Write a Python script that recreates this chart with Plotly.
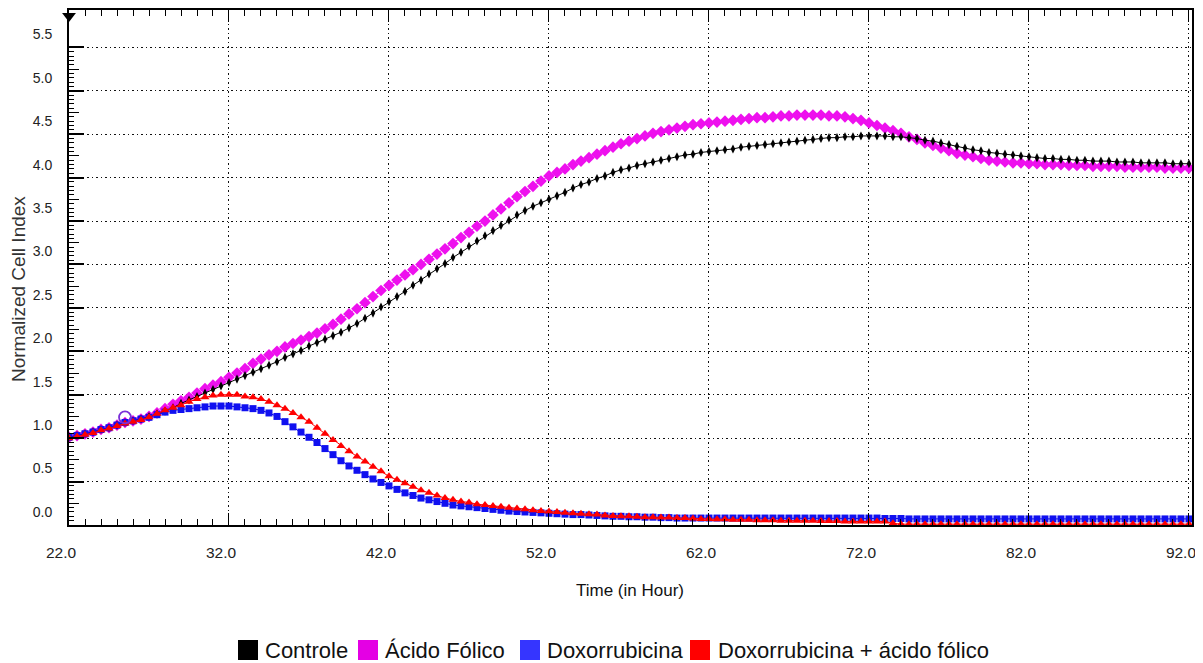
import plotly.graph_objects as go

# ---------------- data ----------------
hours = [round(22 + 0.5 * i, 1) for i in range(141)]  # sampling every 0.5 h, 22.0 .. 92.0

controle = [
    1.01, 1.03, 1.05, 1.07, 1.10, 1.12, 1.15, 1.18, 1.20, 1.22,
    1.25, 1.28, 1.31, 1.35, 1.40, 1.44, 1.48, 1.52, 1.56, 1.60,
    1.64, 1.68, 1.72, 1.76, 1.80, 1.84, 1.88, 1.93, 1.97, 2.01,
    2.06, 2.10, 2.14, 2.18, 2.22, 2.27, 2.32, 2.38, 2.44, 2.51,
    2.57, 2.63, 2.69, 2.76, 2.82, 2.89, 2.95, 3.01, 3.08, 3.14,
    3.21, 3.27, 3.33, 3.39, 3.45, 3.51, 3.57, 3.62, 3.67, 3.71,
    3.75, 3.79, 3.83, 3.88, 3.92, 3.95, 3.99, 4.02, 4.06, 4.09,
    4.11, 4.14, 4.16, 4.18, 4.20, 4.22, 4.24, 4.26, 4.27, 4.29,
    4.30, 4.31, 4.32, 4.33, 4.35, 4.36, 4.37, 4.38, 4.39, 4.40,
    4.41, 4.42, 4.43, 4.44, 4.45, 4.46, 4.46, 4.47, 4.47, 4.48,
    4.48, 4.48, 4.48, 4.47, 4.47, 4.46, 4.45, 4.43, 4.42, 4.40,
    4.38, 4.36, 4.34, 4.32, 4.31, 4.29, 4.28, 4.27, 4.26, 4.25,
    4.24, 4.23, 4.22, 4.22, 4.21, 4.21, 4.20, 4.20, 4.19, 4.19,
    4.19, 4.18, 4.18, 4.18, 4.17, 4.17, 4.17, 4.17, 4.16, 4.16,
    4.16,
]

acido_folico = [
    1.01, 1.03, 1.05, 1.07, 1.10, 1.12, 1.15, 1.18, 1.20, 1.22,
    1.25, 1.29, 1.34, 1.39, 1.43, 1.47, 1.52, 1.57, 1.61, 1.65,
    1.70, 1.75, 1.80, 1.86, 1.91, 1.96, 2.00, 2.05, 2.09, 2.13,
    2.17, 2.21, 2.26, 2.31, 2.37, 2.43, 2.49, 2.56, 2.63, 2.70,
    2.76, 2.82, 2.88, 2.94, 3.00, 3.06, 3.12, 3.18, 3.24, 3.31,
    3.37, 3.44, 3.50, 3.57, 3.64, 3.71, 3.78, 3.84, 3.90, 3.96,
    4.02, 4.06, 4.10, 4.15, 4.19, 4.23, 4.27, 4.31, 4.35, 4.39,
    4.42, 4.45, 4.48, 4.51, 4.53, 4.55, 4.57, 4.59, 4.61, 4.62,
    4.63, 4.64, 4.65, 4.66, 4.67, 4.68, 4.69, 4.69, 4.70, 4.71,
    4.71, 4.72, 4.72, 4.72, 4.72, 4.71, 4.71, 4.70, 4.68, 4.66,
    4.63, 4.60, 4.57, 4.54, 4.51, 4.47, 4.44, 4.40, 4.37, 4.34,
    4.31, 4.28, 4.26, 4.24, 4.22, 4.20, 4.19, 4.18, 4.17, 4.17,
    4.16, 4.16, 4.15, 4.15, 4.15, 4.14, 4.14, 4.14, 4.13, 4.13,
    4.13, 4.13, 4.12, 4.12, 4.12, 4.12, 4.12, 4.11, 4.11, 4.11,
    4.11,
]

doxorrubicina = [
    1.01, 1.03, 1.05, 1.07, 1.10, 1.12, 1.15, 1.18, 1.20, 1.22,
    1.24, 1.27, 1.30, 1.32, 1.33, 1.34, 1.35, 1.36, 1.37, 1.37,
    1.37, 1.36, 1.35, 1.34, 1.32, 1.29, 1.25, 1.19, 1.13, 1.07,
    1.01, 0.95, 0.88, 0.81, 0.74, 0.68, 0.63, 0.58, 0.53, 0.49,
    0.45, 0.41, 0.37, 0.34, 0.31, 0.29, 0.27, 0.25, 0.23, 0.22,
    0.21, 0.20, 0.19, 0.18, 0.17, 0.16, 0.155, 0.15, 0.145, 0.14,
    0.135, 0.13, 0.125, 0.12, 0.12, 0.115, 0.11, 0.105, 0.10, 0.10,
    0.095, 0.095, 0.09, 0.09, 0.085, 0.085, 0.08, 0.08, 0.08, 0.08,
    0.08, 0.08, 0.08, 0.08, 0.08, 0.08, 0.08, 0.08, 0.08, 0.08,
    0.08, 0.08, 0.08, 0.08, 0.08, 0.08, 0.08, 0.08, 0.08, 0.08,
    0.08, 0.08, 0.075, 0.075, 0.075, 0.07, 0.07, 0.07, 0.07, 0.07,
    0.07, 0.07, 0.07, 0.07, 0.07, 0.07, 0.07, 0.07, 0.07, 0.07,
    0.07, 0.07, 0.07, 0.07, 0.07, 0.07, 0.07, 0.07, 0.07, 0.07,
    0.07, 0.07, 0.07, 0.07, 0.07, 0.07, 0.07, 0.07, 0.07, 0.07,
    0.07,
]

doxo_acido = [
    1.00, 1.02, 1.04, 1.06, 1.09, 1.11, 1.14, 1.17, 1.19, 1.21,
    1.24, 1.28, 1.32, 1.35, 1.38, 1.42, 1.45, 1.47, 1.49, 1.50,
    1.50, 1.50, 1.48, 1.47, 1.45, 1.42, 1.38, 1.34, 1.29, 1.24,
    1.19, 1.12, 1.05, 0.98, 0.91, 0.85, 0.79, 0.73, 0.67, 0.62,
    0.56, 0.52, 0.48, 0.44, 0.40, 0.37, 0.34, 0.31, 0.29, 0.27,
    0.26, 0.24, 0.23, 0.22, 0.21, 0.20, 0.19, 0.18, 0.17, 0.16,
    0.155, 0.15, 0.14, 0.135, 0.13, 0.125, 0.12, 0.11, 0.105, 0.10,
    0.10, 0.095, 0.09, 0.09, 0.085, 0.085, 0.08, 0.08, 0.075, 0.07,
    0.07, 0.065, 0.065, 0.06, 0.06, 0.06, 0.055, 0.055, 0.055, 0.05,
    0.05, 0.05, 0.05, 0.05, 0.045, 0.045, 0.045, 0.04, 0.04, 0.04,
    0.04, 0.04, 0.04, 0.02, 0.01, 0.01, 0.01, 0.01, 0.01, 0.01,
    0.01, 0.01, 0.01, 0.01, 0.01, 0.01, 0.01, 0.01, 0.01, 0.01,
    0.01, 0.01, 0.01, 0.01, 0.01, 0.01, 0.01, 0.01, 0.01, 0.01,
    0.01, 0.01, 0.01, 0.01, 0.01, 0.01, 0.01, 0.01, 0.01, 0.01,
    0.01,
]

# normalisation point (open circle) and the time marker at the top-left corner
norm_time = [25.5]
norm_value = [1.24]
marker_time = [22.0]
marker_level = [5.86]

series_names = ["Controle", "Ácido Fólico", "Doxorrubicina", "Doxorrubicina + ácido fólico"]
legend_colors = ["#000000", "#E400E4", "#3535FF", "#FF0000"]

y_major = [round(0.5 * i, 1) for i in range(12)]
y_medium = [round(0.25 + 0.5 * i, 2) for i in range(11)]
y_minor = [round(0.05 * i, 2) for i in range(111)]

# ---------------- figure ----------------
REG = "Liberation Sans, Arial, sans-serif"

fig = go.Figure()

fig.add_trace(go.Scatter(
    x=hours, y=acido_folico, mode="lines+markers", name=series_names[1], showlegend=False,
    line=dict(color="#EE10EE", width=1),
    marker=dict(symbol="diamond", size=9, color="#EE10EE"),
))
fig.add_trace(go.Scatter(
    x=hours, y=controle, mode="lines+markers", name=series_names[0], showlegend=False,
    line=dict(color="#000000", width=1),
    marker=dict(symbol="diamond-tall", size=6.5, color="#000000"),
))
fig.add_trace(go.Scatter(
    x=hours, y=doxorrubicina, mode="lines+markers", name=series_names[2], showlegend=False,
    line=dict(color="#0000E8", width=1),
    marker=dict(symbol="square", size=7, color="#1010F0"),
))
fig.add_trace(go.Scatter(
    x=hours, y=doxo_acido, mode="lines+markers", name=series_names[3], showlegend=False,
    line=dict(color="#FF0000", width=1),
    marker=dict(symbol="triangle-up", size=8, color="#FF0000"),
))
fig.add_trace(go.Scatter(
    x=norm_time, y=norm_value, mode="markers", showlegend=False,
    marker=dict(symbol="circle-open", size=12, color="#7A2FD8", line=dict(width=1.8)),
))
fig.add_trace(go.Scatter(
    x=marker_time, y=marker_level, mode="markers", showlegend=False, cliponaxis=False,
    marker=dict(symbol="triangle-down", size=12, color="#000000"),
))
# helper axes used only for tick marks (medium y ticks, top x ticks)
fig.add_trace(go.Scatter(x=[], y=[], yaxis="y2", showlegend=False))
fig.add_trace(go.Scatter(x=[], y=[], xaxis="x2", showlegend=False))

# page has an 8px body margin, so the figure is 8px smaller than the window
W, H = 1195, 655
L, R, T, B = 61, 11, 2, 138
pw, ph = W - L - R, H - T - B


def px_x(page_x):
    return (page_x - 69) / pw


def px_y(page_y):
    return (525 - page_y) / ph


# legend drawn as squares + labels below the plot
legend_square_left = [238, 358, 520, 690]
legend_text_left = [263, 383, 545, 716]
shapes = []
annotations = []
for name, col, sx, tx in zip(series_names, legend_colors, legend_square_left, legend_text_left):
    shapes.append(dict(type="rect", xref="paper", yref="paper",
                       x0=px_x(sx), x1=px_x(sx + 20), y0=px_y(660), y1=px_y(640),
                       fillcolor=col, line=dict(width=0)))
    annotations.append(dict(text=name, xref="paper", yref="paper",
                            x=px_x(tx), y=px_y(650), xanchor="left", yanchor="middle",
                            showarrow=False, font=dict(size=22, family=REG, color="#111")))

annotations += [
    dict(text="Time (in Hour)", xref="paper", yref="paper",
         x=px_x(630), y=px_y(590), xanchor="center", yanchor="middle",
         showarrow=False, font=dict(size=17, family=REG, color="#111")),
    dict(text="Normalized Cell Index", xref="paper", yref="paper",
         x=px_x(18), y=px_y(289), xanchor="center", yanchor="middle",
         textangle=-90, showarrow=False, font=dict(size=19, family=REG, color="#333")),
]

fig.update_layout(
    width=W, height=H,
    margin=dict(l=L, r=R, t=T, b=B, autoexpand=False),
    plot_bgcolor="white", paper_bgcolor="white",
    font=dict(family=REG, color="#222"),
    showlegend=False,
    xaxis=dict(
        range=[22, 92.19], tickmode="linear", tick0=22, dtick=10, tickformat=".1f",
        ticks="inside", ticklen=12, tickwidth=1, tickcolor="#000",
        showline=True, linewidth=2, linecolor="#000", mirror=True,
        showgrid=True, gridcolor="#111", gridwidth=1, griddash="1.5px,3px",
        zeroline=False, automargin=False,
        minor=dict(tick0=22, dtick=1, ticks="inside", ticklen=6, tickwidth=1,
                   tickcolor="#000", showgrid=False),
        ticklabelshift=-8, ticklabelstandoff=12,
        tickfont=dict(size=15.5, family=REG, color="#222"),
    ),
    xaxis2=dict(
        range=[22, 92.19], overlaying="x", anchor="y", side="top",
        tickmode="linear", tick0=22, dtick=10, ticks="inside", ticklen=12,
        tickwidth=1, tickcolor="#000", showticklabels=False, showgrid=False,
        showline=False, zeroline=False, automargin=False,
        minor=dict(tick0=22, dtick=1, ticks="inside", ticklen=6, tickwidth=1,
                   tickcolor="#000", showgrid=False),
    ),
    yaxis=dict(
        range=[0, 5.93], tickmode="array", tickvals=y_major, tickformat=".1f",
        ticks="inside", ticklen=15, tickwidth=1.5, tickcolor="#000",
        showline=True, linewidth=2, linecolor="#000", mirror=True,
        showgrid=True, gridcolor="#111", gridwidth=1, griddash="1.5px,3px",
        zeroline=False, automargin=False,
        minor=dict(tickmode="array", tickvals=y_minor, ticks="inside", ticklen=5,
                   tickwidth=1, tickcolor="#000", showgrid=False),
        ticklabelshift=-13, ticklabelstandoff=12,
        tickfont=dict(size=14, family=REG, color="#222"),
    ),
    yaxis2=dict(
        range=[0, 5.93], overlaying="y", anchor="x", side="left",
        tickmode="array", tickvals=y_medium, ticks="inside", ticklen=10,
        tickwidth=1, tickcolor="#000", showticklabels=False, showgrid=False,
        showline=False, zeroline=False, automargin=False,
    ),
    shapes=shapes,
    annotations=annotations,
)

fig.write_html("out.html")
